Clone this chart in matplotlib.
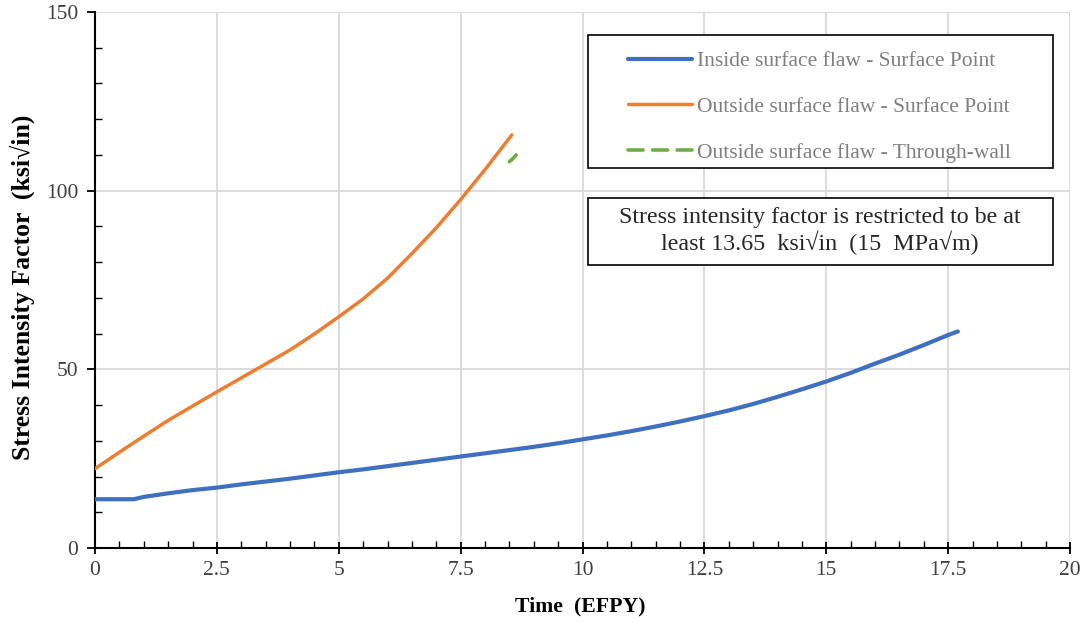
import matplotlib
matplotlib.use("Agg")
import matplotlib.pyplot as plt
from matplotlib.patches import Rectangle
from matplotlib.ticker import MultipleLocator, FuncFormatter

plt.rcParams['font.family'] = ['Liberation Serif', 'DejaVu Serif']

# Data
inside_x = [0, 0.5, 0.8, 1.0, 1.5, 2.0, 2.5, 3.0, 3.5, 4.0, 4.5, 5.0, 5.5, 6.0, 6.5,
            7.0, 7.5, 8.0, 8.5, 9.0, 9.5, 10.0, 10.5, 11.0, 11.5, 12.0, 12.5, 13.0,
            13.5, 14.0, 14.5, 15.0, 15.5, 16.0, 16.5, 17.0, 17.5, 17.7]
inside_y = [13.65, 13.65, 13.65, 14.3, 15.3, 16.2, 16.9, 17.8, 18.6, 19.4, 20.3, 21.2,
            22.0, 22.9, 23.8, 24.7, 25.6, 26.5, 27.4, 28.3, 29.3, 30.4, 31.5, 32.7,
            34.0, 35.4, 36.9, 38.5, 40.3, 42.3, 44.4, 46.6, 49.0, 51.6, 54.1, 56.8,
            59.6, 60.6]

outside_x = [0, 0.5, 1.0, 1.5, 2.0, 2.5, 3.0, 3.5, 4.0, 4.5, 5.0, 5.5, 6.0, 6.5,
             7.0, 7.5, 8.0, 8.55]
outside_y = [22.2, 26.8, 31.3, 35.7, 39.7, 43.7, 47.6, 51.5, 55.4, 59.9, 64.7, 69.7,
             75.5, 82.4, 89.6, 97.5, 105.9, 115.6]

through_x = [8.50, 8.55, 8.60, 8.64]
through_y = [108.1, 108.7, 109.4, 110.0]

labels = ["Inside surface flaw - Surface Point",
          "Outside surface flaw - Surface Point",
          "Outside surface flaw - Through-wall"]
colors = ["#3E6FC0", "#ED7D31", "#70AD47"]
note = "Stress intensity factor is restricted to be at\nleast 13.65  ksi\u221ain  (15  MPa\u221am)"

W, H = 1081, 623
fig = plt.figure(figsize=(W / 100, H / 100), dpi=100)
ax = fig.add_axes([95 / W, 1 - 548 / H, (1070 - 95) / W, (548 - 12) / H])

ax.plot(inside_x, inside_y, color=colors[0], lw=3.0, label=labels[0], solid_capstyle='round', zorder=3)
ax.plot(outside_x, outside_y, color=colors[1], lw=2.5, label=labels[1], solid_capstyle='round', zorder=3)
ax.plot(through_x, through_y, color=colors[2], lw=2.6, ls=(0, (4.2, 2.6)), label=labels[2],
        dash_capstyle='round', zorder=3)

ax.set_xlim(0, 20)
ax.set_ylim(0, 150)
ax.xaxis.set_major_locator(MultipleLocator(2.5))
ax.xaxis.set_minor_locator(MultipleLocator(0.5))
ax.yaxis.set_major_locator(MultipleLocator(50))
ax.yaxis.set_minor_locator(MultipleLocator(10))
ax.xaxis.set_major_formatter(FuncFormatter(lambda v, p: f"{v:g}"))
ax.grid(True, which='major', color='#d9d9d9', lw=1.3, zorder=0)
ax.set_axisbelow(True)
for s in ['top', 'right']:
    ax.spines[s].set_visible(False)
for s in ['left', 'bottom']:
    ax.spines[s].set_linewidth(1.5)
    ax.spines[s].set_color('black')
ax.tick_params(axis='x', which='major', direction='inout', length=9, width=1.3, labelsize=15.5,
               labelcolor='#404040', pad=5)
ax.tick_params(axis='x', which='minor', direction='in', length=5, width=1.0)
ax.tick_params(axis='y', which='major', direction='out', length=6, width=1.3, labelsize=15.5,
               labelcolor='#404040', pad=6)
ax.tick_params(axis='y', which='minor', direction='in', length=5, width=1.0)

fig.text(580 / W, 1 - 606 / H, "Time  (EFPY)", ha='center', va='center', fontsize=15.7,
         fontweight='bold')
fig.text(22 / W, 1 - 287 / H, "Stress Intensity Factor  (ksi\u221ain)", ha='center', va='center',
         rotation=90, fontsize=18.5, fontweight='bold')

# legend frame and entries
ax.add_patch(Rectangle((588 / W, 1 - 168 / H), (1053 - 588) / W, (168 - 35) / H,
                       transform=fig.transFigure, facecolor='white', edgecolor='black',
                       lw=1.2, zorder=4, clip_on=False))
leg = ax.legend(loc='upper left', bbox_to_anchor=(628 / W, 1 - 51 / H),
                bbox_transform=fig.transFigure, borderaxespad=0, borderpad=0,
                frameon=False, fontsize=15.5, handlelength=2.95,
                handletextpad=0.25, labelspacing=1.2)
leg.set_zorder(6)
for t in leg.get_texts():
    t.set_color('#7f7f7f')

ax.add_patch(Rectangle((588 / W, 1 - 265 / H), (1053 - 588) / W, (265 - 198) / H,
                       transform=fig.transFigure, facecolor='white', edgecolor='black',
                       lw=1.2, zorder=4, clip_on=False))
ax.text(820 / W, 1 - 231 / H, note, transform=fig.transFigure, ha='center', va='center',
        fontsize=17.3, color='#262626', linespacing=1.14, zorder=6)

fig.savefig("out.png", dpi=100)
